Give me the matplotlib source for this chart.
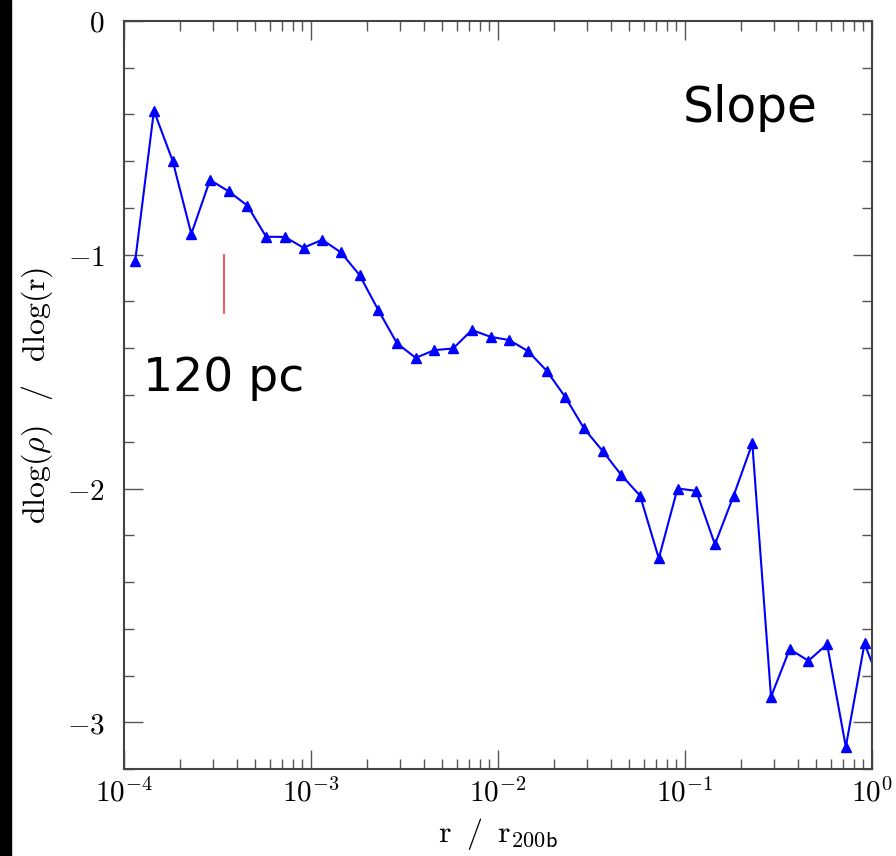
import numpy as np
import matplotlib
matplotlib.use("Agg")
import matplotlib.pyplot as plt
from matplotlib.ticker import FixedLocator, FixedFormatter, LogLocator, NullFormatter
from matplotlib.patches import Rectangle

plt.rcParams['mathtext.fontset'] = 'cm'

# bin centres, log10(r / r200b)
log_r = [-3.94, -3.84, -3.74, -3.64, -3.54, -3.44, -3.34, -3.24, -3.14, -3.04,
         -2.94, -2.84, -2.74, -2.64, -2.54, -2.44, -2.34, -2.24, -2.14, -2.04,
         -1.94, -1.84, -1.74, -1.64, -1.54, -1.44, -1.34, -1.24, -1.14, -1.04,
         -0.94, -0.84, -0.74, -0.64, -0.54, -0.44, -0.34, -0.24, -0.14, -0.04,
         0.06]
# logarithmic slope of the density profile
slope = [-1.025, -0.384, -0.598, -0.911, -0.680, -0.729, -0.790, -0.923, -0.924, -0.970,
         -0.936, -0.990, -1.087, -1.237, -1.379, -1.441, -1.408, -1.401, -1.322, -1.351,
         -1.365, -1.412, -1.496, -1.609, -1.743, -1.840, -1.943, -2.031, -2.299, -2.000,
         -2.010, -2.239, -2.031, -1.807, -2.891, -2.687, -2.737, -2.666, -3.105, -2.663,
         -2.87]

# resolution marker (120 pc)
res_r = 3.43e-4
res_y = [-1.0, -1.25]

xticks = [1e-4, 1e-3, 1e-2, 1e-1, 1e0]
xticklabels = [r'$10^{-4}$', r'$10^{-3}$', r'$10^{-2}$', r'$10^{-1}$', r'$10^{0}$']
yticks = [0, -1, -2, -3]
yticklabels = [r'$0$', r'$-1$', r'$-2$', r'$-3$']

r = 10 ** np.array(log_r)

fig = plt.figure(figsize=(8.96, 8.56), dpi=100)
ax = fig.add_axes([0.1384, 0.1016, 0.8348, 0.8739])

ax.plot(r, slope, color='#0000ff', lw=1.5, marker='^', ms=7.5, mec='#0000ff')
ax.plot([res_r, res_r], res_y, color='#ff4444', lw=1.3)

ax.set_xscale('log')
ax.set_xlim(1e-4, 1e0)
ax.set_ylim(-3.2, 0)

ax.xaxis.set_major_locator(FixedLocator(xticks))
ax.xaxis.set_major_formatter(FixedFormatter(xticklabels))
ax.xaxis.set_minor_locator(LogLocator(base=10, subs=np.arange(2, 10), numticks=20))
ax.xaxis.set_minor_formatter(NullFormatter())
ax.yaxis.set_major_locator(FixedLocator(yticks))
ax.yaxis.set_major_formatter(FixedFormatter(yticklabels))
ax.yaxis.set_minor_locator(FixedLocator(np.arange(-3.2, 0.01, 0.2)))

ax.tick_params(which='both', direction='in', top=True, right=True,
               color='#555555', width=1.0, labelsize=21)
ax.tick_params(which='major', length=14)
ax.tick_params(which='minor', length=7)
ax.tick_params(axis='x', pad=7)
ax.tick_params(axis='y', pad=14)

for sp in ax.spines.values():
    sp.set_color('#444444')
    sp.set_linewidth(1.5)

ax.set_xlabel(r'$\mathrm{r}\;\;/\;\;\mathrm{r}_{\mathsf{200b}}$', fontsize=23, labelpad=6)
ax.set_ylabel(r'$\mathrm{dlog}(\rho)\;\;\;/\;\;\;\mathrm{dlog(r)}$', fontsize=23, labelpad=8)

ax.text(0.747, 0.865, 'Slope', transform=ax.transAxes, fontsize=35,
        family='DejaVu Sans', va='baseline', ha='left')
ax.text(0.0254, 0.505, '120 pc', transform=ax.transAxes, fontsize=34,
        family='DejaVu Sans', va='baseline', ha='left')

fig.patches.append(Rectangle((0, 0), 11 / 896, 1, transform=fig.transFigure,
                             color='black', zorder=10))

fig.savefig('out.png', dpi=100)
